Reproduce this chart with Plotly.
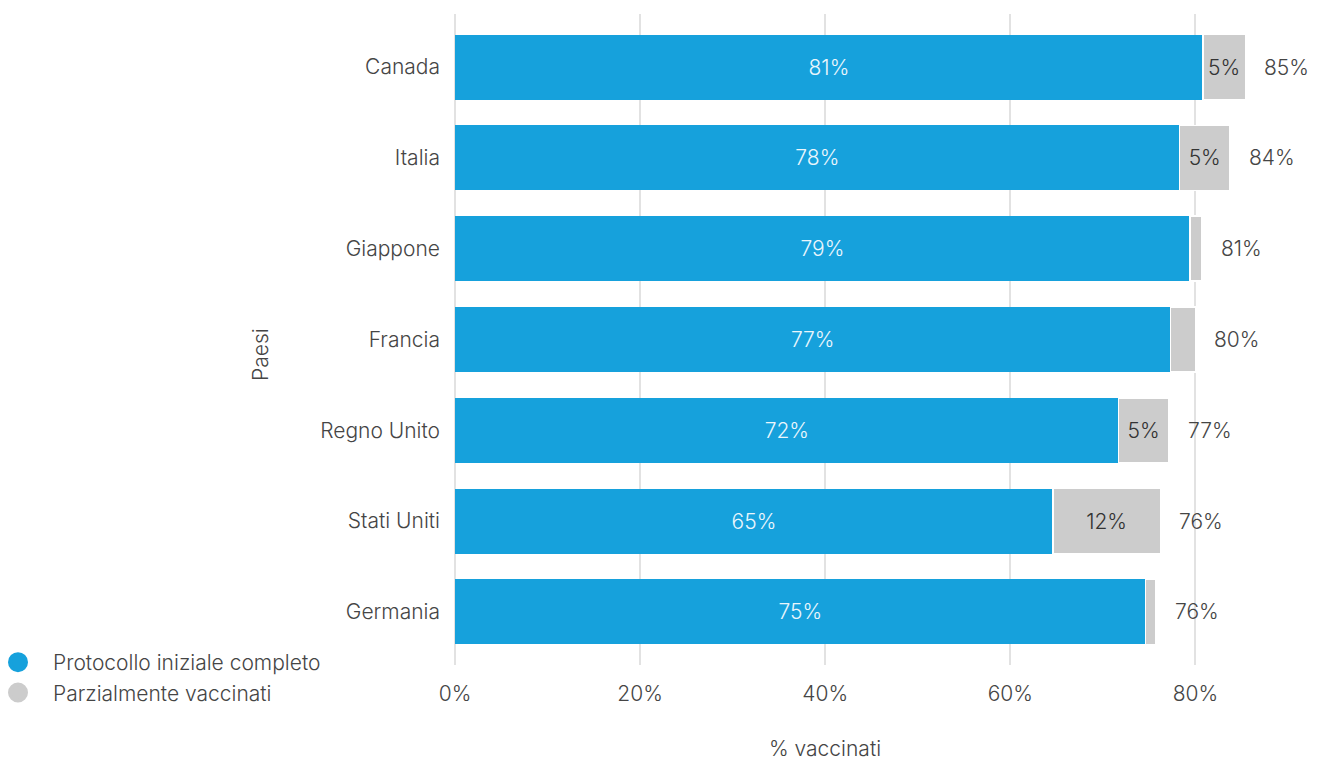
import plotly.graph_objects as go

# Vaccination coverage by country (% of population)
paesi = ["Canada", "Italia", "Giappone", "Francia", "Regno Unito", "Stati Uniti", "Germania"]
completo = [80.8, 78.3, 79.4, 77.3, 71.7, 64.6, 74.6]
parziale = [4.6, 5.4, 1.3, 2.7, 5.4, 11.6, 1.1]
x_ticks = [0, 20, 40, 60, 80]

serie_nomi = ["Protocollo iniziale completo", "Parzialmente vaccinati"]
BLU = "#16a1dc"
GRIGIO = "#cccccc"
TESTO = "#454545"
FONT = "Inter"
FS = 21

totale = [c + p for c, p in zip(completo, parziale)]
txt_completo = [f"{v:.0f}%" for v in completo]
txt_parziale = [f"{v:.0f}%" if v >= 3.5 else "" for v in parziale]

fig = go.Figure()

fig.add_trace(go.Bar(
    y=paesi, x=completo, orientation="h", name=serie_nomi[0],
    marker=dict(color=BLU, line=dict(width=0)),
    text=txt_completo, textposition="inside", insidetextanchor="middle",
    textfont=dict(color="#eaf6fc", size=FS, family=FONT, weight=300),
    showlegend=False, hoverinfo="skip",
))
fig.add_trace(go.Bar(
    y=paesi, x=parziale, orientation="h", name=serie_nomi[1],
    marker=dict(color=GRIGIO, line=dict(color="white", width=1.5)),
    text=txt_parziale, textposition="inside", insidetextanchor="middle",
    textfont=dict(color="#333333", size=FS, family=FONT, weight=300),
    showlegend=False, hoverinfo="skip",
))

# circular legend entries
for nome, col in zip(serie_nomi, [BLU, GRIGIO]):
    fig.add_trace(go.Scatter(
        x=[None], y=[None], mode="markers", name=nome,
        marker=dict(symbol="circle", size=16, color=col, line=dict(color=col, width=4)),
    ))

# total labels to the right of each bar
for p, t in zip(paesi, totale):
    fig.add_annotation(
        x=t, y=p, xref="x", yref="y", text=f"{t:.0f}%", showarrow=False,
        xanchor="left", xshift=17,
        font=dict(size=FS, color=TESTO, family=FONT, weight=300),
    )

PLOT_W = 1317 - 455 - 29
PLOT_H = 760 - 14 - 95

# axis titles
fig.add_annotation(
    x=40, y=-(748 - 665) / PLOT_H, xref="x", yref="paper", text="% vaccinati", showarrow=False,
    xanchor="center", yanchor="middle",
    font=dict(size=FS, color=TESTO, family=FONT, weight=300),
)
fig.add_annotation(
    x=-(455 - 260) / PLOT_W, y=(665 - 355) / PLOT_H, xref="paper", yref="paper",
    text="Paesi", textangle=-90, showarrow=False, xanchor="center", yanchor="middle",
    font=dict(size=FS, color=TESTO, family=FONT, weight=300),
)

fig.update_layout(
    width=1317, height=760,
    margin=dict(l=455, r=29, t=14, b=95, autoexpand=False),
    barmode="stack", bargap=0.284,
    plot_bgcolor="white", paper_bgcolor="white",
    font=dict(family=FONT, size=FS, color=TESTO, weight=300),
    legend=dict(
        xref="paper", yref="paper", x=-(455 + 17) / PLOT_W, y=(665 - 642) / PLOT_H,
        xanchor="left", yanchor="top", traceorder="normal",
        font=dict(size=FS, color=TESTO, family=FONT, weight=300),
        itemwidth=60, tracegroupgap=0,
    ),
    xaxis=dict(
        range=[0, 90], tickmode="array", tickvals=x_ticks,
        ticktext=[f"{v}%" for v in x_ticks],
        showgrid=True, gridcolor="#e2e2e2", gridwidth=2,
        zeroline=True, zerolinecolor="#e2e2e2", zerolinewidth=2,
        showline=False, ticks="", ticklabelstandoff=14, automargin=False,
        fixedrange=True,
    ),
    yaxis=dict(
        categoryorder="array", categoryarray=paesi,
        range=[6.585, -0.585], showgrid=False, zeroline=False, showline=False,
        ticks="", ticklabelstandoff=14, automargin=False,
        fixedrange=True,
    ),
)

fig.write_html("out.html")
